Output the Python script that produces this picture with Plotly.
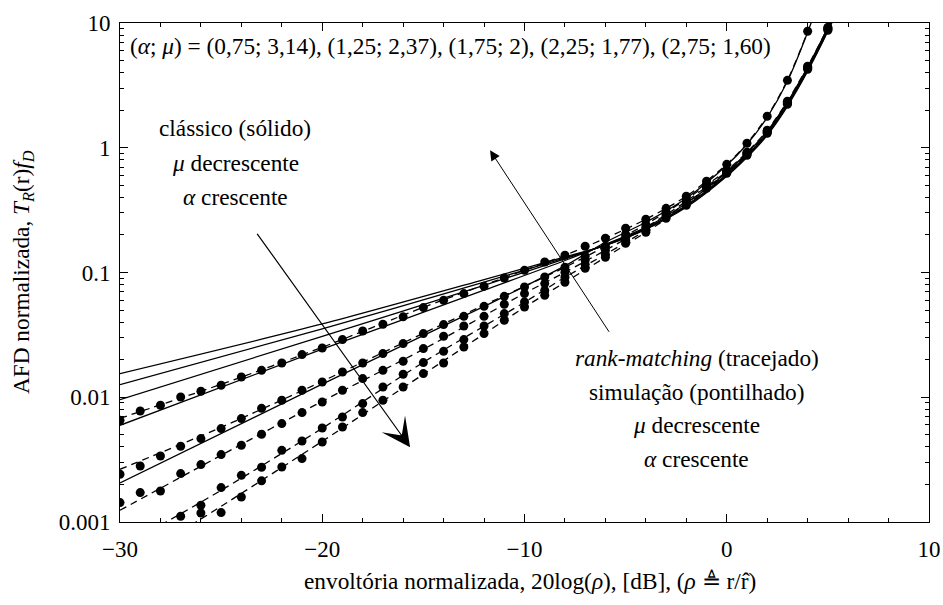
import plotly.graph_objects as go

FONT = "Liberation Serif"

# ---------------- classical alpha-mu AFD (solid lines) ----------------
x_classic = [-30, -20, -12, -8, -6, -4, -2, 0, 1, 2, 3, 4, 5, 5.5]
x_classic_e = [-30, -20, -12, -8, -6, -4, -2, 0, 1, 2, 3, 4, 4.3]
classic_a = [0.01547, 0.03866, 0.08772, 0.1336, 0.1652, 0.2220, 0.3331, 0.5903, 0.8383, 1.258, 2.149, 4.101, 8.580, 12.88]
classic_b = [0.01263, 0.03531, 0.08375, 0.1311, 0.1652, 0.2240, 0.3394, 0.6014, 0.854, 1.282, 2.189, 4.177, 8.739, 13.12]
classic_c = [0.009576, 0.03078, 0.07896, 0.1288, 0.1667, 0.2261, 0.3457, 0.6126, 0.8699, 1.306, 2.230, 4.255, 8.903, 13.36]
classic_d = [0.005959, 0.02426, 0.07212, 0.1248, 0.1683, 0.2303, 0.3586, 0.6357, 0.9026, 1.355, 2.314, 4.414, 9.237, 13.87]
classic_e = [0.002054, 0.01275, 0.05348, 0.1130, 0.1747, 0.2526, 0.3934, 0.7232, 1.066, 1.754, 3.409, 8.424, 11.53]

# ---------------- rank-matching (dashed lines) ----------------
x_rank_1 = [-30, -25, -20, -15, -10, -8, -6, -4, -2, 0, 1, 2, 3, 4, 4.3]
x_rank_23 = [-30, -25, -20, -15, -10, -8, -6, -4, -2, 0, 1, 2, 3, 4, 5, 5.4]
x_rank_4 = [-28, -25, -20, -15, -10, -8, -6, -4, -2, 0, 1, 2, 3, 4, 5, 5.4]
x_rank_5 = [-26.5, -25, -20, -15, -10, -8, -6, -4, -2, 0, 1, 2, 3, 4, 5, 5.4]
rank_1 = [0.006779, 0.01270, 0.02514, 0.05260, 0.1041, 0.1374, 0.1880, 0.2670, 0.4082, 0.7367, 1.086, 1.787, 3.472, 8.580, 12.18]
rank_2 = [0.002645, 0.005742, 0.01342, 0.03255, 0.07752, 0.1101, 0.1622, 0.2434, 0.3862, 0.6595, 0.9195, 1.380, 2.357, 4.497, 9.237, 13.12]
rank_3 = [0.001241, 0.003425, 0.009279, 0.02423, 0.06812, 0.1004, 0.1507, 0.2303, 0.3722, 0.6475, 0.9026, 1.355, 2.314, 4.414, 9.069, 12.88]
rank_4 = [0.000941, 0.001795, 0.005637, 0.01906, 0.05769, 0.09153, 0.1399, 0.2179, 0.3586, 0.6357, 0.8861, 1.330, 2.272, 4.334, 8.903, 12.65]
rank_5 = [0.000941, 0.001336, 0.004436, 0.01528, 0.05260, 0.08345, 0.1324, 0.2100, 0.3457, 0.6241, 0.8699, 1.306, 2.230, 4.255, 8.739, 12.41]

# ---------------- simulation (dots, every 1 dB) ----------------
x_sim_1 = list(range(-30, 5))
x_sim_2 = list(range(-30, 6))
x_sim_3 = list(range(-30, 6))
x_sim_4 = list(range(-27, 6))
x_sim_5 = list(range(-26, 6))
sim_1 = [0.00653, 0.00776, 0.00862, 0.01005, 0.01116, 0.01247, 0.01453, 0.01644, 0.01882, 0.02197,
         0.02482, 0.02897, 0.03397, 0.03844, 0.04414, 0.05233, 0.05985, 0.06773, 0.07752, 0.09035,
         0.1041, 0.1214, 0.1374, 0.1622, 0.1880, 0.2261, 0.2670, 0.3270, 0.4082, 0.5384,
         0.7367, 1.086, 1.787, 3.472, 8.580]
sim_2 = [0.002412, 0.002811, 0.003381, 0.004044, 0.004661, 0.005606, 0.006744, 0.008153, 0.009453, 0.01137,
         0.01325, 0.01594, 0.01882, 0.02238, 0.02692, 0.03237, 0.03822, 0.04455, 0.05357, 0.06444,
         0.07652, 0.09203, 0.1101, 0.1349, 0.1622, 0.2024, 0.2434, 0.3038, 0.3862, 0.5093,
         0.6595, 0.9195, 1.380, 2.357, 4.497, 9.237]
sim_3 = [0.001431, 0.001721, 0.001772, 0.002443, 0.002885, 0.003470, 0.004120, 0.005047, 0.006149, 0.007534,
         0.009161, 0.01137, 0.01411, 0.01644, 0.01942, 0.02455, 0.03080, 0.03725, 0.04455, 0.05560,
         0.06773, 0.08147, 0.1004, 0.1252, 0.1507, 0.1915, 0.2303, 0.2928, 0.3722, 0.5000,
         0.6475, 0.9026, 1.355, 2.314, 4.414, 9.069]
sim_4 = [0.001111, 0.001361, 0.001887, 0.002367, 0.002745, 0.003755, 0.004460, 0.005668, 0.006945, 0.008895,
         0.01208, 0.01528, 0.01896, 0.02335, 0.02897, 0.03725, 0.04683, 0.05801, 0.07199, 0.09153,
         0.1163, 0.1399, 0.1812, 0.2179, 0.2822, 0.3586, 0.4819, 0.6357, 0.8861, 1.330,
         2.272, 4.334, 8.903]
sim_5 = [0.001181, 0.001190, 0.001586, 0.002139, 0.002760, 0.003222, 0.004379, 0.005774, 0.007534, 0.009453,
         0.01208, 0.01547, 0.01882, 0.02528, 0.03237, 0.04139, 0.05289, 0.06565, 0.08345, 0.1081,
         0.1324, 0.1714, 0.2100, 0.2720, 0.3457, 0.4731, 0.6241, 0.8699, 1.306, 2.230,
         4.255, 8.739]

x_ticks = [-30, -20, -10, 0, 10]
x_ticktext = ["\u221230", "\u221220", "\u221210", "0", "10"]
y_ticks = [0.001, 0.01, 0.1, 1, 10]
y_ticktext = ["0.001", "0.01", "0.1", "1", "10"]
y_minor = [m * 10.0 ** k for k in range(-3, 1) for m in range(2, 10)]

fig = go.Figure()

for xs, ys in [(x_classic, classic_a), (x_classic, classic_b), (x_classic, classic_c),
               (x_classic, classic_d), (x_classic_e, classic_e)]:
    fig.add_trace(go.Scatter(x=xs, y=ys, mode="lines",
                             line=dict(color="black", width=1.3, shape="spline", smoothing=0.8),
                             hoverinfo="skip"))

for xs, ys in [(x_rank_1, rank_1), (x_rank_23, rank_2), (x_rank_23, rank_3),
               (x_rank_4, rank_4), (x_rank_5, rank_5)]:
    fig.add_trace(go.Scatter(x=xs, y=ys, mode="lines",
                             line=dict(color="black", width=1.3, dash="7px,5px",
                                       shape="spline", smoothing=0.8),
                             hoverinfo="skip"))

for xs, ys in [(x_sim_1, sim_1), (x_sim_2, sim_2), (x_sim_3, sim_3),
               (x_sim_4, sim_4), (x_sim_5, sim_5)]:
    fig.add_trace(go.Scatter(x=xs, y=ys, mode="markers",
                             marker=dict(color="black", size=9, line=dict(width=0)),
                             cliponaxis=True, hoverinfo="skip"))

axis_common = dict(showline=True, linecolor="black", linewidth=1, mirror="ticks",
                   ticks="inside", tickcolor="black", tickwidth=1, ticklen=8,
                   showgrid=False, zeroline=False,
                   tickfont=dict(family=FONT, size=23, color="black"))

fig.update_xaxes(range=[-30, 10], tickvals=x_ticks, ticktext=x_ticktext,
                 ticklabelstandoff=6,
                 minor=dict(ticks="inside", ticklen=4, dtick=2, tick0=0,
                            tickcolor="black", tickwidth=1, showgrid=False),
                 **axis_common)
fig.update_yaxes(type="log", range=[-3, 1], tickvals=y_ticks, ticktext=y_ticktext,
                 ticklabelstandoff=4,
                 minor=dict(ticks="inside", ticklen=4, tickvals=y_minor,
                            tickcolor="black", tickwidth=1, showgrid=False),
                 **axis_common)

txt = dict(family=FONT, size=23.3, color="black")
ann = [
    dict(x=0.0105, y=0.9533, xanchor="left", yanchor="middle",
         text="(<i>\u03b1</i>; <i>\u03bc</i>) = (0,75; 3,14), (1,25; 2,37), (1,75; 2), (2,25; 1,77), (2,75; 1,60)"),
    dict(x=0.1426, y=0.789, text="cl\u00e1ssico (s\u00f3lido)"),
    dict(x=0.1426, y=0.7188, text="<i>\u03bc</i> decrescente"),
    dict(x=0.1426, y=0.6507, text="<i>\u03b1</i> crescente"),
    dict(x=0.713, y=0.328, text="<i>rank-matching</i> (tracejado)"),
    dict(x=0.713, y=0.26, text="simula\u00e7\u00e3o (pontilhado)"),
    dict(x=0.713, y=0.1938, text="<i>\u03bc</i> decrescente"),
    dict(x=0.713, y=0.1257, text="<i>\u03b1</i> crescente"),
    dict(x=0.5068, y=-0.1188,
         text="envolt\u00f3ria normalizada, 20log(<i>\u03c1</i>), [dB], (<i>\u03c1</i> \u225c r/r\u0302)"),
    dict(x=-0.1204, y=0.5, textangle=-90,
         text="AFD normalizada, <i>T<sub>R</sub></i>(r)<i>f<sub>D</sub></i>"),
]
annotations = []
for a in ann:
    base = dict(xref="paper", yref="paper", showarrow=False, font=txt,
                xanchor="center", yanchor="middle")
    base.update(a)
    annotations.append(base)

# arrows
annotations.append(dict(xref="paper", yref="paper", x=0.3586, y=0.1497, ax=-154, ay=-215,
                        axref="pixel", ayref="pixel", showarrow=True, text="",
                        arrowhead=3, arrowsize=4, arrowwidth=1.2, arrowcolor="black"))
annotations.append(dict(xref="paper", yref="paper", x=0.4574, y=0.7449, ax=120, ay=183,
                        axref="pixel", ayref="pixel", showarrow=True, text="",
                        arrowhead=2, arrowsize=2, arrowwidth=1, arrowcolor="black"))

fig.update_layout(width=943, height=605,
                  margin=dict(l=119.5, r=13.5, t=22.7, b=83.3, autoexpand=False),
                  paper_bgcolor="white", plot_bgcolor="white", showlegend=False,
                  font=dict(family=FONT, color="black"),
                  annotations=annotations)

fig.write_html("out.html")
